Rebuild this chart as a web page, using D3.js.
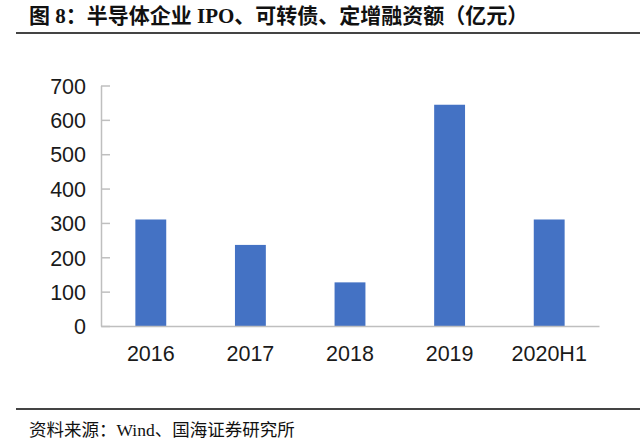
<!DOCTYPE html>
<html>
<head>
<meta charset="utf-8">
<script src="https://cdn.jsdelivr.net/npm/d3@7"></script>
<style>
  body { margin: 0; background: #fff; }
  .axis text { font-family: "Liberation Sans", Arial, sans-serif; font-size: 21.5px; fill: #1a1a1a; }
  .axis path, .axis line { stroke: #bfbfbf; stroke-width: 1.5; }
</style>
</head>
<body>
<div id="main"></div>
<script>
var categories = ["2016", "2017", "2018", "2019", "2020H1"];
var values = [310, 236, 127, 644, 310];
var yTicks = [0, 100, 200, 300, 400, 500, 600, 700];
var titleText = "图 8：半导体企业 IPO、可转债、定增融资额（亿元）";
var sourceText = "资料来源：Wind、国海证券研究所";

var ctx = { w: 640, h: 446 };

var createViz = function() {
    var svg = d3.select("#main").append("svg")
        .attr("width", ctx.w)
        .attr("height", ctx.h);

    svg.append("rect").attr("width", ctx.w).attr("height", ctx.h).attr("fill", "#fff");

    // title + rules
    svg.append("text")
        .attr("x", 29)
        .attr("y", 23)
        .attr("font-family", "'Liberation Serif', 'Noto Sans CJK SC', serif")
        .attr("font-weight", "bold")
        .attr("font-size", 21)
        .attr("fill", "#111")
        .text(titleText);
    svg.append("line")
        .attr("x1", 16).attr("x2", 640).attr("y1", 33).attr("y2", 33)
        .attr("stroke", "#444").attr("stroke-width", 2);
    svg.append("line")
        .attr("x1", 16).attr("x2", 640).attr("y1", 409).attr("y2", 409)
        .attr("stroke", "#444").attr("stroke-width", 2);
    svg.append("text")
        .attr("x", 29)
        .attr("y", 436)
        .attr("font-family", "'Liberation Serif', 'Noto Sans CJK SC', serif")
        .attr("font-size", 17.5)
        .attr("fill", "#111")
        .text(sourceText);

    // scales
    ctx.xScale = d3.scaleBand().domain(categories)
        .range([101, 599])
        .paddingInner(0.69)
        .paddingOuter(0.345);
    ctx.yScale = d3.scaleLinear().domain([0, 700])
        .range([326, 85.5]);

    // bars
    svg.append("g").selectAll("rect")
        .data(categories)
        .enter().append("rect")
        .attr("x", (d) => ctx.xScale(d))
        .attr("y", (d, i) => ctx.yScale(values[i]))
        .attr("width", ctx.xScale.bandwidth())
        .attr("height", (d, i) => ctx.yScale(0) - ctx.yScale(values[i]))
        .attr("fill", "#4472c4");

    // axes
    svg.append("g")
        .attr("class", "axis")
        .attr("transform", "translate(101,0)")
        .call(d3.axisLeft(ctx.yScale).tickValues(yTicks).tickSizeInner(-9).tickSizeOuter(0).tickPadding(15))
        .call((g) => g.selectAll("text").attr("dy", "0.36em"));
    svg.append("g")
        .attr("class", "axis")
        .attr("transform", "translate(0,326)")
        .call(d3.axisBottom(ctx.xScale).tickSize(0).tickPadding(20));
};

createViz();
</script>
</body>
</html>
